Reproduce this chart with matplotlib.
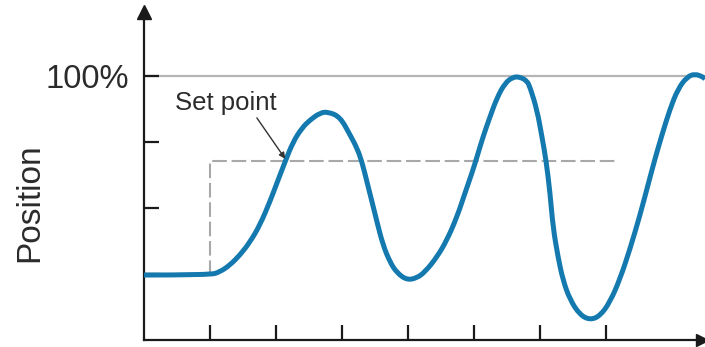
import numpy as np
import matplotlib
matplotlib.use("Agg")
import matplotlib.pyplot as plt
from matplotlib.path import Path
from matplotlib.patches import PathPatch

plt.rcParams['font.family'] = ['Liberation Sans', 'DejaVu Sans']

# time in tick units, position in percent
time = [0.0, 1.0, 1.152, 1.303, 1.455, 1.606, 1.758, 1.909, 2.015, 2.136,
        2.258, 2.394, 2.515, 2.667, 2.788, 2.970, 3.121, 3.227, 3.303, 3.379,
        3.455, 3.530, 3.621, 3.727, 3.833, 3.985, 4.136, 4.258, 4.439, 4.591,
        4.742, 4.864, 4.970, 5.045, 5.136, 5.242, 5.348, 5.470, 5.591, 5.697,
        5.803, 5.848, 5.955, 6.030, 6.091, 6.152, 6.197, 6.273, 6.348, 6.455,
        6.606, 6.758, 6.909, 7.061, 7.212, 7.364, 7.515, 7.636, 7.742, 7.848,
        7.970, 8.091, 8.227, 8.348, 8.47, 8.5]
position = [24.6, 24.6, 25.8, 28.4, 32.2, 37.1, 43.6, 52.5, 59.5, 67.4,
            75.0, 80.3, 83.3, 86.0, 86.4, 84.5, 77.7, 72.7, 67.4, 59.8,
            52.3, 44.7, 36.0, 29.5, 25.4, 22.7, 23.5, 25.8, 31.4, 37.9,
            46.6, 55.7, 63.3, 69.3, 76.9, 84.5, 91.7, 97.3, 99.6, 99.6,
            98.1, 95.8, 87.1, 76.9, 68.2, 55.7, 42.8, 31.4, 22.7, 15.2,
            9.5, 7.6, 9.1, 14.4, 23.1, 34.5, 47.3, 58.7, 68.6, 77.7,
            87.5, 95.1, 99.6, 100.8, 99.6, 98.8]

setpoint_time = [1.0, 1.0, 7.17]
setpoint_pos = [24.6, 67.8, 67.8]

y_ticks = [25, 50, 75, 100]
y_tick_labels = ['', '', '', '100%']
x_ticks = [1, 2, 3, 4, 5, 6, 7]


def smooth_path(xs, ys):
    # quadratic bezier through midpoints, read points act as control points
    pts = np.column_stack([xs, ys])
    verts = [pts[0]]
    codes = [Path.MOVETO]
    for i in range(1, len(pts) - 1):
        verts += [pts[i], (pts[i] + pts[i + 1]) / 2]
        codes += [Path.CURVE3, Path.CURVE3]
    verts.append(pts[-1])
    codes.append(Path.LINETO)
    return Path(verts, codes)


fig = plt.figure(figsize=(7.05, 3.47), dpi=100)
ax = fig.add_axes([144 / 705, 7 / 347, 561 / 705, 328 / 347])
ax.set_xlim(0, 8.5)
ax.set_ylim(0, 124.2)

for s in ['top', 'right']:
    ax.spines[s].set_visible(False)
for s in ['left', 'bottom']:
    ax.spines[s].set_linewidth(1.6)
    ax.spines[s].set_color('#1a1a1a')

ax.set_yticks(y_ticks)
ax.set_yticklabels(y_tick_labels, fontsize=23.5, color='#2b2b2b')
ax.set_xticks(x_ticks)
ax.set_xticklabels([])
ax.tick_params(axis='both', direction='in', length=10.5, width=1.6, color='#1a1a1a')
ax.tick_params(axis='y', pad=11)

# axis arrows
ax.plot([0], [124.2], marker='^', markersize=10, color='#1a1a1a', clip_on=False)
ax.plot([8.45], [0], marker='>', markersize=8, color='#1a1a1a', clip_on=False)

ax.axhline(100, color='#b5b5b5', lw=1.6, zorder=1)
ax.plot(setpoint_time, setpoint_pos, color='#a8a8a8', lw=1.5, dashes=(7, 2.3), zorder=2)
ax.add_patch(PathPatch(smooth_path(time, position), facecolor='none',
                       edgecolor='#1479ae', lw=3.6, joinstyle='round',
                       capstyle='butt', zorder=3))

ax.text(0.47, 89.8, 'Set point', fontsize=18.5, color='#2b2b2b', va='center', ha='left')
ax.annotate('', xy=(2.14, 68.6), xytext=(1.71, 84.1),
            arrowprops=dict(arrowstyle='-|>', color='#333333', lw=1.0,
                            mutation_scale=9, shrinkA=0, shrinkB=0))

fig.text(30 / 705, 1 - 203 / 347, 'Position', rotation=90, fontsize=24,
         color='#2b2b2b', ha='center', va='center')

fig.savefig('out.png', dpi=100)
